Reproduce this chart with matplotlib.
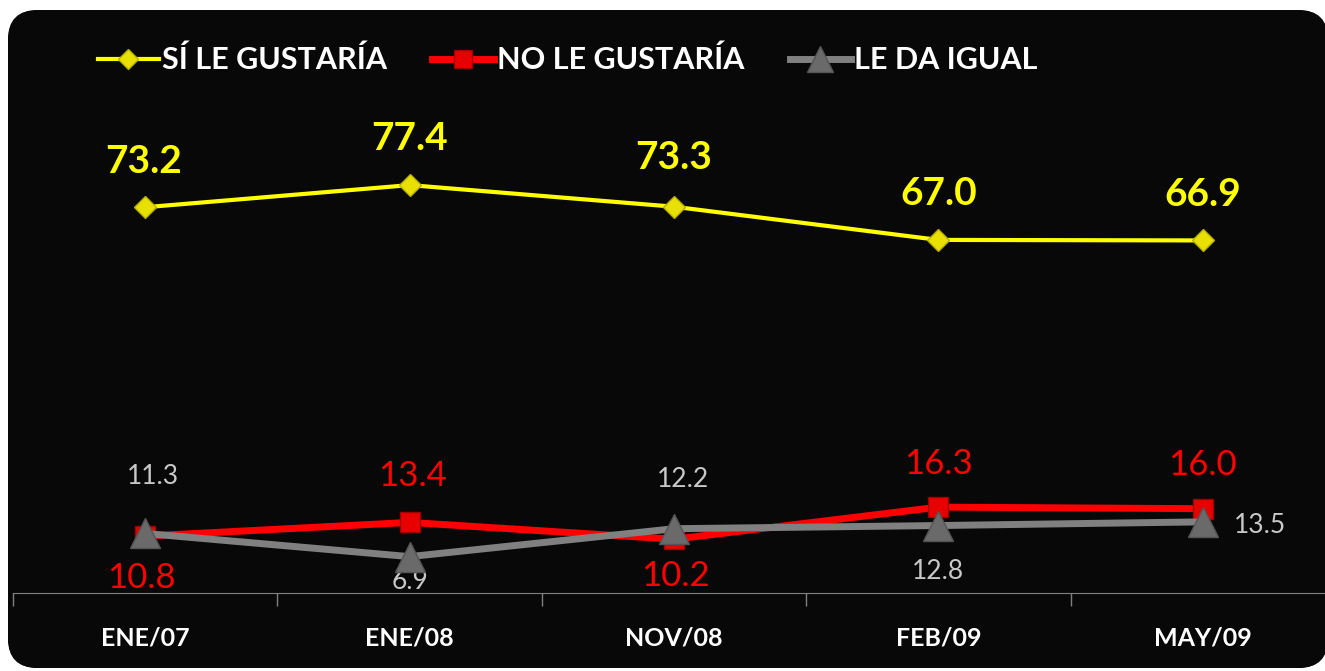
import numpy as np
import matplotlib
matplotlib.use("Agg")
import matplotlib.pyplot as plt
from matplotlib.patches import FancyBboxPatch

plt.rcParams["font.family"] = ["Lato", "DejaVu Sans"]

categories = ["ENE/07", "ENE/08", "NOV/08", "FEB/09", "MAY/09"]
si_gustaria = [73.2, 77.4, 73.3, 67.0, 66.9]
no_gustaria = [10.8, 13.4, 10.2, 16.3, 16.0]
da_igual = [11.3, 6.9, 12.2, 12.8, 13.5]

# label offsets in pixels (dx, dy) per point
SI_OFF = [(-2, 46), (0, 47), (0, 49), (0, 46), (0, 46)]
NO_OFF = [(-4, -42), (3, 46), (1, -37), (0, 43), (0, 44)]
IG_OFF = [(8, 57), (0, -25), (9, 49), (0, -46), (57, -4)]

W, H = 1325, 671
fig = plt.figure(figsize=(W / 100, H / 100), dpi=100)
fig.patch.set_facecolor("white")

# rounded black panel with a soft highlight at the top
bg = fig.add_axes([0, 0, 1, 1])
bg.set_xlim(0, W); bg.set_ylim(H, 0); bg.axis("off")
box = FancyBboxPatch((8, 10), 1320, 658, boxstyle="round,pad=0,rounding_size=30",
                     facecolor="#080808", edgecolor="none")
bg.add_patch(box)
yy = np.linspace(0, 1, 400)[:, None]
grad = np.clip(1 - (yy * H - 10) / 40, 0, 1) * 0.24 + 0.035
img = np.repeat(grad, 2, axis=1)
im = bg.imshow(img, cmap="gray", vmin=0, vmax=1, extent=[0, W, H, 0], aspect="auto")
im.set_clip_path(box)

ax = fig.add_axes([13 / W, 78 / H, 1322 / W, 527 / H])
ax.patch.set_alpha(0)
x = np.arange(len(categories))

ax.plot(x, si_gustaria, color="#ffff00", lw=3, marker="D", ms=11,
        mfc="#e8e000", mec="#b8b000", mew=1, label="SÍ LE GUSTARÍA", zorder=3)
ax.plot(x, no_gustaria, color="#ff0000", lw=5, marker="s", ms=15,
        mfc="#e80000", mec="#a00000", mew=1, label="NO LE GUSTARÍA", zorder=3)
ax.plot(x, da_igual, color="#808080", lw=5, marker="^", ms=21,
        mfc="#6a6a6a", mec="#555555", mew=1, label="LE DA IGUAL", zorder=4)

for i, v in enumerate(si_gustaria):
    ax.annotate(f"{v:.1f}", (x[i], v), xytext=SI_OFF[i], textcoords="offset pixels",
                ha="center", va="center", color="#ffff00", fontsize=28, fontweight="bold")
for i, v in enumerate(no_gustaria):
    ax.annotate(f"{v:.1f}", (x[i], v), xytext=NO_OFF[i], textcoords="offset pixels",
                ha="center", va="center", color="#ff0000", fontsize=25)
for i, v in enumerate(da_igual):
    ax.annotate(f"{v:.1f}", (x[i], v), xytext=IG_OFF[i], textcoords="offset pixels",
                ha="center", va="center", color="#c8c8c8", fontsize=19)

ax.set_xlim(-0.5, len(categories) - 0.5)
ax.set_ylim(0, 100)
ax.set_yticks([])
ax.set_xticks(x)
ax.set_xticklabels(categories, color="white", fontsize=18, fontweight="bold")
ax.tick_params(axis="x", which="major", length=0, pad=24)
ax.set_xticks(np.arange(-0.5, len(categories)), minor=True)
ax.tick_params(axis="x", which="minor", length=9, color="#808080", width=1)
for s in ["top", "right", "left"]:
    ax.spines[s].set_visible(False)
ax.spines["bottom"].set_color("#808080")

leg = ax.legend(loc="center left", bbox_to_anchor=(70 / W, 1 - 60 / H),
                bbox_transform=fig.transFigure, ncol=3, frameon=False,
                handlelength=2.0, handletextpad=0.1, columnspacing=1.5,
                prop={"size": 22, "weight": "bold"}, markerscale=0.9)
for t in leg.get_texts():
    t.set_color("white")

fig.savefig("out.png", dpi=100, facecolor="white")
